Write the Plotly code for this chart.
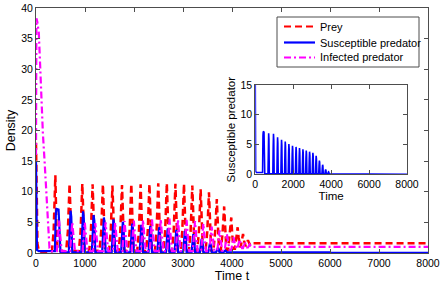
import plotly.graph_objects as go

# ---------------- data ----------------
prey_t = [0, 15, 30, 60, 150, 300,
          325, 360, 395, 415, 440,
          615, 650, 685, 705, 730,
          875, 910, 945, 965, 990,
          1085, 1120, 1155, 1175, 1200,
          1295, 1330, 1365, 1385, 1410,
          1490, 1525, 1560, 1580, 1605,
          1685, 1720, 1755, 1775, 1800,
          1875, 1910, 1945, 1965, 1990,
          2065, 2100, 2135, 2155, 2180,
          2245, 2280, 2315, 2335, 2360,
          2425, 2460, 2495, 2515, 2540,
          2600, 2635, 2670, 2690, 2715,
          2775, 2810, 2845, 2865, 2890,
          2950, 2985, 3020, 3040, 3065,
          3120, 3155, 3190, 3210, 3235,
          3290, 3325, 3360, 3380, 3405,
          3460, 3495, 3530, 3550, 3575,
          3620, 3655, 3690, 3710, 3735,
          3770, 3805, 3840, 3860, 3885,
          3920, 3950, 3985, 4005, 4030,
          4060, 4090, 4115, 4135, 4160,
          4175, 4200, 4225, 4245, 4270,
          4280, 4305, 4325, 4345, 4370,
          4420, 8000]
prey_y = [18, 6, 1.5, 0.3, 0.1, 0.1,
          0.3, 3.5, 12.7, 5.0, 0.4,
          0.3, 3.5, 11.3, 5.0, 0.4,
          0.3, 3.5, 11.3, 5.0, 0.4,
          0.3, 3.5, 11.2, 5.0, 0.4,
          0.3, 3.5, 11.2, 5.0, 0.4,
          0.3, 3.5, 11.0, 5.0, 0.4,
          0.3, 3.5, 11.1, 5.0, 0.4,
          0.3, 3.5, 11.3, 5.0, 0.4,
          0.3, 3.5, 11.2, 5.0, 0.4,
          0.3, 3.5, 11.3, 5.0, 0.4,
          0.3, 3.5, 11.4, 5.0, 0.4,
          0.3, 3.5, 11.4, 5.0, 0.4,
          0.3, 3.5, 11.3, 5.0, 0.4,
          0.3, 3.5, 11.3, 5.0, 0.4,
          0.3, 3.5, 11.0, 5.0, 0.4,
          0.3, 3.5, 10.4, 5.0, 0.4,
          0.3, 3.5, 9.9, 4.8, 0.4,
          0.3, 3.3, 8.8, 4.5, 0.4,
          0.4, 3.0, 7.6, 4.0, 0.5,
          0.5, 2.5, 5.8, 3.0, 0.7,
          0.7, 2.2, 4.2, 2.5, 0.9,
          0.9, 2.0, 3.1, 2.0, 1.1,
          1.1, 1.7, 2.1, 1.7, 1.3,
          1.6, 1.6]

susc_t = [0, 8, 20, 60, 380,
          385, 405, 420, 460, 480, 500,
          670, 690, 705, 720, 740,
          925, 945, 960, 975, 995,
          1140, 1160, 1175, 1190, 1210,
          1350, 1370, 1385, 1400, 1420,
          1545, 1565, 1580, 1595, 1615,
          1737, 1757, 1772, 1787, 1807,
          1927, 1947, 1962, 1977, 1997,
          2115, 2135, 2150, 2165, 2185,
          2297, 2317, 2332, 2347, 2367,
          2477, 2497, 2512, 2527, 2547,
          2653, 2673, 2688, 2703, 2723,
          2828, 2848, 2863, 2878, 2898,
          3003, 3023, 3038, 3053, 3073,
          3175, 3195, 3210, 3225, 3245,
          3345, 3365, 3380, 3395, 3415,
          3515, 3535, 3550, 3565, 3585,
          3675, 3695, 3710, 3725, 3745,
          3825, 3845, 3860, 3875, 3895,
          6000, 6010, 8000]
susc_y = [15, 3, 0.5, 0.3, 0.3,
          0.3, 6.5, 7.2, 7.1, 3.0, 0.1,
          0.1, 4.8, 6.9, 5.9, 0.1,
          0.1, 4.8, 6.8, 5.8, 0.1,
          0.1, 4.3, 6.2, 5.3, 0.1,
          0.1, 4.1, 5.8, 4.9, 0.1,
          0.1, 3.9, 5.5, 4.7, 0.1,
          0.1, 3.6, 5.1, 4.3, 0.1,
          0.1, 3.4, 4.8, 4.1, 0.1,
          0.1, 3.2, 4.6, 3.9, 0.1,
          0.1, 3.1, 4.4, 3.7, 0.1,
          0.1, 2.9, 4.2, 3.6, 0.1,
          0.1, 2.8, 4.0, 3.4, 0.1,
          0.1, 2.7, 3.8, 3.2, 0.1,
          0.1, 2.5, 3.6, 3.1, 0.1,
          0.1, 2.2, 3.1, 2.6, 0.1,
          0.1, 1.6, 2.3, 2.0, 0.1,
          0.1, 1.1, 1.6, 1.4, 0.1,
          0.1, 0.6, 0.8, 0.7, 0.1,
          0.1, 0.3, 0.4, 0.35, 0.1,
          0.1, 0.02, 0.02]

inf_t = [0, 8, 25, 57, 85, 105, 140, 175, 210, 240, 275, 320,
         425, 450, 470, 495, 525,
         695, 720, 740, 765, 795,
         950, 975, 995, 1020, 1050,
         1165, 1190, 1210, 1235, 1265,
         1375, 1400, 1420, 1445, 1475,
         1570, 1595, 1615, 1640, 1670,
         1762, 1787, 1807, 1832, 1862,
         1952, 1977, 1997, 2022, 2052,
         2140, 2165, 2185, 2210, 2240,
         2322, 2347, 2367, 2392, 2422,
         2502, 2527, 2547, 2572, 2602,
         2678, 2703, 2723, 2748, 2778,
         2853, 2878, 2898, 2923, 2953,
         3028, 3053, 3073, 3098, 3128,
         3200, 3225, 3245, 3270, 3300,
         3370, 3395, 3415, 3440, 3470,
         3540, 3565, 3585, 3610, 3640,
         3700, 3725, 3745, 3770, 3800,
         3850, 3875, 3895, 3920, 3950,
         3985, 4010, 4030, 4055, 4085,
         4110, 4135, 4155, 4180, 4205,
         4225, 4245, 4260, 4280, 4305,
         4325, 4345, 4360, 4380, 4405,
         4450, 8000]
inf_y = [16, 38.3, 37.8, 36, 30.5, 25, 19.6, 15, 10, 5, 0.8, 0.3,
         0.3, 2.8, 5.3, 2.8, 0.3,
         0.3, 2.8, 5.0, 2.8, 0.3,
         0.3, 2.8, 5.0, 2.8, 0.3,
         0.3, 2.8, 4.9, 2.8, 0.3,
         0.3, 2.8, 5.0, 2.8, 0.3,
         0.3, 2.8, 5.0, 2.8, 0.3,
         0.3, 2.8, 5.2, 2.8, 0.3,
         0.3, 2.8, 5.3, 2.8, 0.3,
         0.3, 2.8, 5.4, 2.8, 0.3,
         0.3, 2.8, 5.5, 2.8, 0.3,
         0.3, 2.8, 5.5, 2.8, 0.3,
         0.3, 2.8, 5.6, 2.8, 0.3,
         0.3, 2.8, 5.5, 2.8, 0.3,
         0.3, 2.8, 5.4, 2.8, 0.3,
         0.3, 2.8, 5.2, 2.8, 0.3,
         0.3, 2.6, 4.8, 2.6, 0.3,
         0.3, 2.4, 4.3, 2.4, 0.4,
         0.4, 2.1, 3.7, 2.1, 0.4,
         0.4, 1.9, 3.1, 1.9, 0.5,
         0.5, 1.6, 2.6, 1.6, 0.7,
         0.7, 1.5, 2.2, 1.5, 0.8,
         0.8, 1.3, 1.8, 1.3, 0.9,
         0.9, 1.2, 1.4, 1.2, 1.0,
         1.0, 1.0]

x_ticks = [0, 1000, 2000, 3000, 4000, 5000, 6000, 7000, 8000]
y_ticks = [0, 5, 10, 15, 20, 25, 30, 35, 40]
inset_x_ticks = [0, 2000, 4000, 6000, 8000]
inset_y_ticks = [0, 5, 10, 15]

series_names = ["Prey", "Susceptible predator", "Infected predator"]
series_colors = ["#ff0000", "#0000ff", "#ff00ff"]
series_dashes = ["7px,4px", "solid", "7px,3px,2px,3px"]

# ---------------- figure ----------------
FONT = "Liberation Sans, Arial, sans-serif"
AX = "#4d4d4d"

fig = go.Figure()
for (xs, ys), nm, col, ds, w in zip([(prey_t, prey_y), (susc_t, susc_y), (inf_t, inf_y)],
                                   series_names, series_colors, series_dashes,
                                   [2.5, 2.2, 2.2]):
    fig.add_trace(go.Scatter(x=xs, y=ys, mode="lines", name=nm, showlegend=False,
                             line=dict(color=col, width=w, dash=ds)))
fig.add_trace(go.Scatter(x=susc_t, y=susc_y, mode="lines", showlegend=False,
                         name="Susceptible predator (inset)",
                         xaxis="x2", yaxis="y2",
                         line=dict(color="#0000ff", width=1.6)))

axis_common = dict(showgrid=False, zeroline=False, showline=True, linecolor=AX,
                   linewidth=1, mirror="ticks", ticks="inside", ticklen=4,
                   tickcolor=AX, automargin=False,
                   tickfont=dict(family=FONT, size=10.5, color="#000"))

# legend drawn as a boxed key (paper coordinates)
L, R, T, B = 36, 16, 8, 34
PW, PH = 444 - L - R, 287 - T - B
def px(x):
    return (x - L) / PW
def py(y):
    return (287 - B - y) / PH

shapes = [dict(type="rect", xref="paper", yref="paper",
               x0=px(277), x1=px(419), y0=py(67), y1=py(17),
               line=dict(color=AX, width=1), fillcolor="white", layer="above")]
annotations = []
row_y = [26.5, 42.5, 57.5]
for nm, col, ds, yy in zip(series_names, series_colors, series_dashes, row_y):
    shapes.append(dict(type="line", xref="paper", yref="paper",
                       x0=px(284), x1=px(315), y0=py(yy), y1=py(yy),
                       line=dict(color=col, width=2.2, dash=ds), layer="above"))
    annotations.append(dict(text=nm, xref="paper", yref="paper", x=px(318), y=py(yy),
                            xanchor="left", yanchor="middle", showarrow=False,
                            font=dict(family=FONT, size=11, color="#000")))

fig.update_layout(
    width=444, height=287,
    margin=dict(l=L, r=R, t=T, b=B),
    paper_bgcolor="white", plot_bgcolor="white",
    font=dict(family=FONT, color="#000"),
    xaxis=dict(range=[0, 8000], tickvals=x_ticks, domain=[0, 1],
               title=dict(text="Time t", font=dict(size=12.5), standoff=0),
               **axis_common),
    yaxis=dict(range=[0, 40], tickvals=y_ticks, domain=[0, 1],
               title=dict(text="Density", font=dict(size=12.5), standoff=2),
               **axis_common),
    xaxis2=dict(range=[0, 8000], tickvals=inset_x_ticks, domain=[0.5594, 0.9464],
                anchor="y2",
                title=dict(text="Time", font=dict(size=11.5), standoff=0),
                **axis_common),
    yaxis2=dict(range=[0, 15], tickvals=inset_y_ticks, domain=[0.3212, 0.6857],
                anchor="x2",
                title=dict(text="Susceptible predator", font=dict(size=11.5), standoff=2),
                **axis_common),
    shapes=shapes,
    annotations=annotations,
    showlegend=False,
)

fig.write_html("out.html",
               config={"displayModeBar": False, "staticPlot": True},
               post_script="document.body.style.margin='0';document.body.style.overflow='hidden';")
